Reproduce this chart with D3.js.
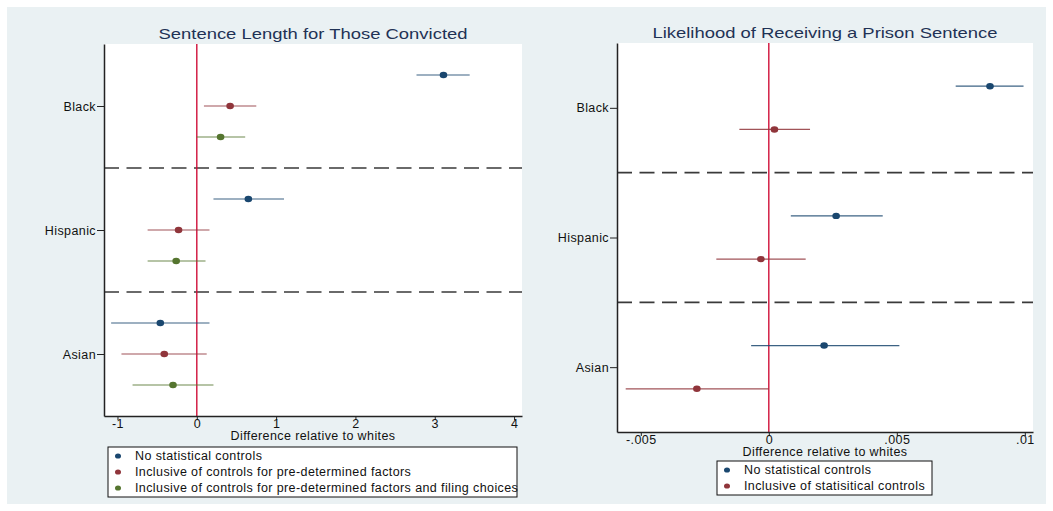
<!DOCTYPE html>
<html lang="en">
<head>
<meta charset="utf-8">
<title>Sentencing differences relative to whites</title>
<script src="https://cdn.jsdelivr.net/npm/d3@7"></script>
<style>
  body { margin: 0; background: #ffffff; }
  svg text { font-family: "Liberation Sans", Arial, Helvetica, sans-serif; }
</style>
</head>
<body>
<svg id="chart" width="1053" height="511"></svg>
<script>
// ---- data ----
var categories = ["Black", "Hispanic", "Asian"];

// left panel: sentence length for those convicted
var sentSeries = ["No statistical controls",
                  "Inclusive of controls for pre-determined factors",
                  "Inclusive of controls for pre-determined factors and filing choices"];
var sentEst = [[3.11, 0.65, -0.46], [0.42, -0.23, -0.41], [0.30, -0.26, -0.30]];
var sentLo  = [[2.77, 0.21, -1.08], [0.09, -0.62, -0.95], [0.00, -0.62, -0.81]];
var sentHi  = [[3.44, 1.10, 0.16],  [0.75, 0.16, 0.125],  [0.61, 0.11, 0.21]];
var sentTicks = [-1, 0, 1, 2, 3, 4];
var sentTickLabels = ["-1", "0", "1", "2", "3", "4"];

// right panel: likelihood of receiving a prison sentence
var prisSeries = ["No statistical controls", "Inclusive of statisitical controls"];
var prisEst = [[0.00864, 0.00263, 0.00216], [0.00022, -0.00031, -0.00281]];
var prisLo  = [[0.00730, 0.00086, -0.00069], [-0.00115, -0.00205, -0.00559]];
var prisHi  = [[0.00995, 0.00445, 0.00510], [0.00161, 0.00144, 0.0000]];
var prisTicks = [-0.005, 0, 0.005, 0.01];
var prisTickLabels = ["-.005", "0", ".005", ".01"];

var colors = ["#1a476f", "#90353b", "#55752f"];
var bg = "#eaf1f3";
var fs = 12.5, ls = 0.4;

var svg = d3.select("#chart");
svg.append("rect").attr("x", 7).attr("y", 7).attr("width", 1039).attr("height", 497).attr("fill", bg);

function panel(opt) {
  var nSer = opt.series.length;
  var step = nSer + 1;
  var x = d3.scaleLinear().domain(opt.xDomain).range([opt.left, opt.right]);
  var y = d3.scaleLinear().domain([-1, categories.length * step - 1]).range([opt.top, opt.bottom]);
  var g = svg.append("g");

  g.append("rect").attr("x", opt.left).attr("y", opt.top)
    .attr("width", opt.right - opt.left).attr("height", opt.bottom - opt.top).attr("fill", "#fff");

  g.append("text").attr("x", (opt.left + opt.right) / 2).attr("y", opt.top - 5)
    .attr("text-anchor", "middle").attr("font-size", 15).attr("fill", "#1f3255")
    .attr("textLength", opt.titleWidth).attr("lengthAdjust", "spacingAndGlyphs")
    .text(opt.title);

  // separators between groups
  g.selectAll("line.sep").data(categories.slice(0, -1)).enter().append("line")
    .attr("class", "sep")
    .attr("x1", opt.left).attr("x2", opt.right)
    .attr("y1", function(d, i) { return y(i * step + nSer); })
    .attr("y2", function(d, i) { return y(i * step + nSer); })
    .attr("stroke", "#3a3a3a").attr("stroke-width", 1.6).attr("stroke-dasharray", "15,7.5");

  // reference line at zero
  g.append("line").attr("x1", x(0)).attr("x2", x(0)).attr("y1", opt.top).attr("y2", opt.bottom)
    .attr("stroke", "#d0103a").attr("stroke-width", 1.4);

  var pts = [];
  opt.series.forEach(function(s, si) {
    categories.forEach(function(c, ci) {
      pts.push({s: si, row: ci * step + si, est: opt.est[si][ci], lo: opt.lo[si][ci], hi: opt.hi[si][ci]});
    });
  });

  g.selectAll("line.ci").data(pts).enter().append("line")
    .attr("class", "ci")
    .attr("x1", function(d) { return x(d.lo); }).attr("x2", function(d) { return x(d.hi); })
    .attr("y1", function(d) { return y(d.row); }).attr("y2", function(d) { return y(d.row); })
    .attr("stroke", function(d) { return colors[d.s]; }).attr("stroke-opacity", 0.85).attr("stroke-width", 1.2);

  g.selectAll("ellipse.pt").data(pts).enter().append("ellipse")
    .attr("class", "pt")
    .attr("cx", function(d) { return x(d.est); }).attr("cy", function(d) { return y(d.row); })
    .attr("rx", 3.8).attr("ry", 3.2)
    .attr("fill", function(d) { return colors[d.s]; });

  // axes
  var xAxis = d3.axisBottom(x).tickValues(opt.ticks).tickSize(4).tickSizeOuter(0)
    .tickFormat(function(d, i) { return opt.tickLabels[i]; });
  var gx = g.append("g").attr("transform", "translate(0," + opt.bottom + ")").call(xAxis);
  gx.select(".domain").attr("stroke", "#222").attr("stroke-width", 1.5);
  gx.selectAll(".tick line").attr("stroke", "#222");
  gx.selectAll(".tick text").attr("font-size", fs).attr("letter-spacing", ls).attr("fill", "#111")
    .attr("dy", "0.55em").attr("y", 5).attr("font-family", "Liberation Sans, Arial, sans-serif");

  var yAxis = d3.axisLeft(y).tickValues(categories.map(function(c, i) { return i * step + (nSer - 1) / 2; }))
    .tickSize(7).tickSizeOuter(0)
    .tickFormat(function(d, i) { return categories[i]; });
  var gy = g.append("g").attr("transform", "translate(" + opt.left + ",0)").call(yAxis);
  gy.select(".domain").attr("stroke", "#222").attr("stroke-width", 1.5);
  gy.selectAll(".tick line").attr("stroke", "#222");
  gy.selectAll(".tick text").attr("font-size", fs).attr("letter-spacing", ls).attr("fill", "#111")
    .attr("x", -8).attr("font-family", "Liberation Sans, Arial, sans-serif");

  g.append("text").attr("x", (opt.left + opt.right) / 2).attr("y", opt.bottom + 24)
    .attr("text-anchor", "middle").attr("font-size", fs).attr("letter-spacing", ls).attr("fill", "#111")
    .text("Difference relative to whites");

  // legend
  var lg = g.append("g");
  lg.append("rect").attr("x", opt.legX).attr("y", opt.legY).attr("width", opt.legW)
    .attr("height", nSer * 16 + 2).attr("fill", "#fff").attr("stroke", "#111").attr("stroke-width", 1);
  var items = lg.selectAll("g.item").data(opt.series).enter().append("g").attr("class", "item")
    .attr("transform", function(d, i) { return "translate(" + (opt.legX + 10) + "," + (opt.legY + 9 + i * 16) + ")"; });
  items.append("ellipse").attr("rx", 3).attr("ry", 2.6).attr("fill", function(d, i) { return colors[i]; });
  items.append("text").attr("x", 17).attr("dy", "0.35em").attr("font-size", fs)
    .attr("letter-spacing", ls).attr("fill", "#111").text(function(d) { return d; });
}

panel({
  title: "Sentence Length for Those Convicted", titleWidth: 309,
  series: sentSeries, est: sentEst, lo: sentLo, hi: sentHi,
  ticks: sentTicks, tickLabels: sentTickLabels,
  xDomain: [-1.17, 4.1], left: 104, right: 522, top: 44, bottom: 416,
  legX: 108, legY: 447, legW: 409
});

panel({
  title: "Likelihood of Receiving a Prison Sentence", titleWidth: 345,
  series: prisSeries, est: prisEst, lo: prisLo, hi: prisHi,
  ticks: prisTicks, tickLabels: prisTickLabels,
  xDomain: [-0.00593, 0.01032], left: 617, right: 1033, top: 43, bottom: 432,
  legX: 717, legY: 461, legW: 215
});
</script>
</body>
</html>
